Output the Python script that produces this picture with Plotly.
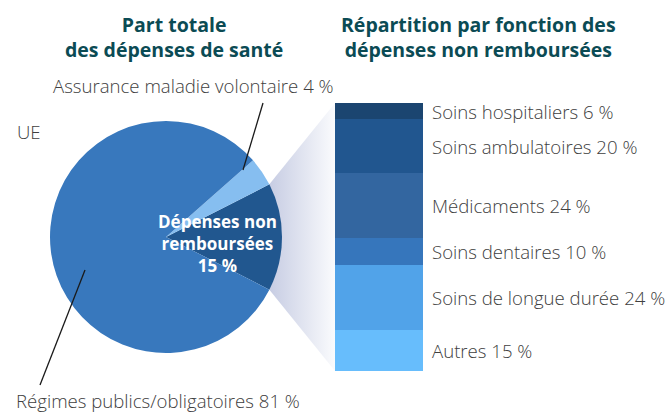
import math
import plotly.graph_objects as go

# ---- data ----
pie_labels = ["Dépenses non remboursées", "Assurance maladie volontaire", "Régimes publics/obligatoires"]
pie_values = [15, 4, 81]
pie_colors = ["#21578f", "#86bef0", "#3878bd"]

bar_labels = ["Autres", "Soins de longue durée", "Soins dentaires", "Médicaments",
              "Soins ambulatoires", "Soins hospitaliers"]
bar_values = [15, 24, 10, 24, 20, 6]
bar_colors = ["#67bdfc", "#51a3e9", "#3676bc", "#3366a0", "#21568f", "#1b4570"]

W, H = 670, 412
FONT = "Open Sans"
TXT = "#404040"
TITLE = "#0b4b54"
LSIZE = 18.6

# pie geometry (pixels)
cx, cy, R = 166, 237, 116
# bar geometry (pixels)
bx0, bx1, by_top, by_bot = 335, 423, 103, 371

fig = go.Figure()

# slice edge angles from data (dark slice centred on the right)
half = pie_values[0] / sum(pie_values) * 360 / 2
ex = cx + R * math.cos(math.radians(half))
ey_top = cy - R * math.sin(math.radians(half))
ey_bot = cy + R * math.sin(math.radians(half))

# gradient connector (pixel overlay axis)
fig.add_trace(go.Scatter(
    x=[ex, bx0, bx0, ex, ex], y=[ey_top, by_top, by_bot, ey_bot, ey_top],
    mode="lines", fill="toself", line=dict(width=0),
    fillgradient=dict(type="horizontal", start=ex - 5, stop=bx0,
                      colorscale=[[0, "#c3c9e1"], [1, "#fafbfd"]]),
    xaxis="x", yaxis="y", hoverinfo="skip", showlegend=False))

# stacked bar
for lab, val, col in zip(bar_labels, bar_values, bar_colors):
    fig.add_trace(go.Bar(x=[0], y=[val], width=1, marker=dict(color=col, line=dict(width=0)),
                         name=lab, xaxis="x2", yaxis="y2", showlegend=False))

# pie
fig.add_trace(go.Pie(
    labels=pie_labels, values=pie_values, sort=False, direction="counterclockwise",
    rotation=90 - half, marker=dict(colors=pie_colors, line=dict(width=0)),
    textinfo="none", hoverinfo="label+percent", showlegend=False,
    domain=dict(x=[(cx - R) / W, (cx + R) / W], y=[(H - cy - R) / H, (H - cy + R) / H])))

annotations = []
# bar labels from cumulative data
cum = 0
for lab, val in zip(bar_labels, bar_values):
    annotations.append(dict(x=0.5, y=cum + val / 2, xref="x2", yref="y2", xanchor="left",
                            yanchor="middle", xshift=7, showarrow=False,
                            text=f"{lab} {val} %",
                            font=dict(family=FONT, size=LSIZE, color=TXT, weight=300)))
    cum += val

def ptext(x, y, text, size=LSIZE, color=TXT, anchor="left", weight=300):
    annotations.append(dict(x=x / W, y=(H - y) / H, xref="paper", yref="paper",
                            xanchor=anchor, yanchor="middle", showarrow=False, text=text,
                            font=dict(family=FONT, size=size, color=color, weight=weight)))

ptext(174, 37, "Part totale<br>des dépenses de santé", size=19.5, color=TITLE, anchor="center", weight=700)
ptext(478, 37, "Répartition par fonction des<br>dépenses non remboursées", size=19.5, color=TITLE,
      anchor="center", weight=700)
ptext(51, 85, f"{pie_labels[1]} {pie_values[1]} %")
ptext(15, 131, "UE")
ptext(14, 400, f"{pie_labels[2]} {pie_values[2]} %")
ptext(218, 244, f"Dépenses non<br>remboursées<br>{pie_values[0]} %", size=17, color="white",
      anchor="center", weight=700)

shapes = [
    dict(type="line", xref="paper", yref="paper", x0=263 / W, y0=(H - 103) / H,
         x1=243 / W, y1=(H - 170) / H, line=dict(color="#1a1a1a", width=1.3), layer="above"),
    dict(type="line", xref="paper", yref="paper", x0=85 / W, y0=(H - 270) / H,
         x1=40 / W, y1=(H - 385) / H, line=dict(color="#1a1a1a", width=1.3), layer="above"),
]

fig.update_layout(
    width=W, height=H, margin=dict(l=0, r=0, t=0, b=0),
    paper_bgcolor="white", plot_bgcolor="rgba(0,0,0,0)",
    barmode="stack", bargap=0,
    xaxis=dict(range=[0, W], domain=[0, 1], visible=False, fixedrange=True),
    yaxis=dict(range=[H, 0], domain=[0, 1], visible=False, fixedrange=True),
    xaxis2=dict(range=[-0.5, 0.5], domain=[bx0 / W, bx1 / W], visible=False, anchor="y2"),
    yaxis2=dict(range=[0, sum(bar_values)], domain=[(H - by_bot) / H, (H - by_top) / H],
                visible=False, anchor="x2"),
    annotations=annotations, shapes=shapes,
)

fig.write_html("out.html", config={"displayModeBar": False},
               post_script="document.body.style.margin='0';")
